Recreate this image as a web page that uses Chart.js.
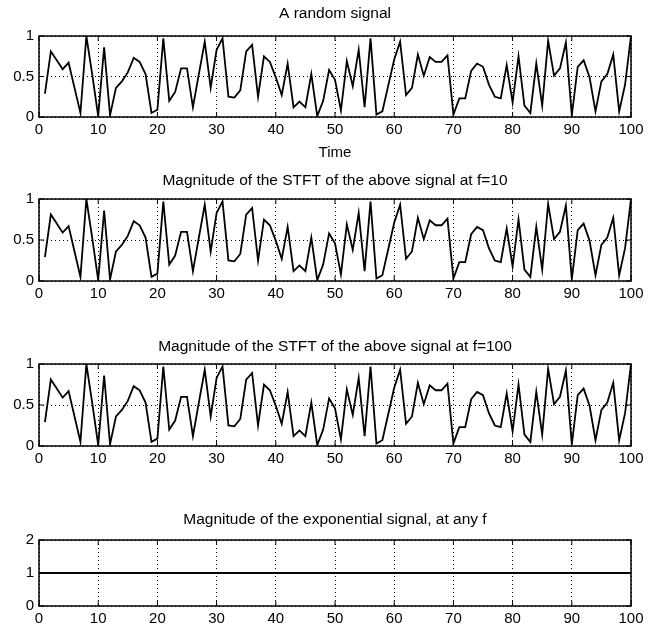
<!DOCTYPE html>
<html>
<head>
<meta charset="utf-8">
<script src="https://cdn.jsdelivr.net/npm/chart.js@4.4.1/dist/chart.umd.min.js"></script>
<style>
    body { margin: 0; background: #fff; width: 649px; height: 626px; overflow: hidden; position: relative; }
    canvas { position: absolute; left: 0; top: 0; }
</style>
</head>
<body>
<canvas id="plot1" width="649" height="626"></canvas>
<canvas id="plot2" width="649" height="626"></canvas>
<canvas id="plot3" width="649" height="626"></canvas>
<canvas id="plot4" width="649" height="626"></canvas>
<script>
// random signal, sampled at t = 1..100
const signalValues = [
    0.29, 0.81, 0.70, 0.59, 0.67, 0.36, 0.05, 1.00, 0.52, 0.01,
    0.86, 0.02, 0.36, 0.44, 0.55, 0.73, 0.68, 0.53, 0.05, 0.09,
    0.97, 0.20, 0.31, 0.60, 0.60, 0.12, 0.53, 0.93, 0.36, 0.83,
    0.97, 0.25, 0.24, 0.33, 0.81, 0.89, 0.25, 0.75, 0.68, 0.49,
    0.27, 0.66, 0.12, 0.19, 0.12, 0.53, 0.01, 0.20, 0.58, 0.46,
    0.08, 0.69, 0.38, 0.83, 0.12, 0.97, 0.03, 0.07, 0.39, 0.71,
    0.93, 0.27, 0.36, 0.77, 0.51, 0.74, 0.68, 0.68, 0.76, 0.03,
    0.23, 0.23, 0.57, 0.66, 0.62, 0.40, 0.25, 0.23, 0.64, 0.18,
    0.75, 0.14, 0.05, 0.66, 0.14, 0.94, 0.51, 0.60, 0.92, 0.02,
    0.62, 0.70, 0.49, 0.07, 0.44, 0.53, 0.77, 0.07, 0.40, 1.00
];
// STFT magnitudes look the same as the signal itself
const stftF10 = signalValues;
const stftF100 = signalValues;
// magnitude of the exponential, t = 0..100
const expMagnitude = [
    1, 1, 1, 1, 1, 1, 1, 1, 1, 1, 1, 1, 1, 1, 1, 1, 1, 1, 1, 1,
    1, 1, 1, 1, 1, 1, 1, 1, 1, 1, 1, 1, 1, 1, 1, 1, 1, 1, 1, 1,
    1, 1, 1, 1, 1, 1, 1, 1, 1, 1, 1, 1, 1, 1, 1, 1, 1, 1, 1, 1,
    1, 1, 1, 1, 1, 1, 1, 1, 1, 1, 1, 1, 1, 1, 1, 1, 1, 1, 1, 1,
    1, 1, 1, 1, 1, 1, 1, 1, 1, 1, 1, 1, 1, 1, 1, 1, 1, 1, 1, 1, 1
];
const titles = [
    'A random signal',
    'Magnitude of the STFT of the above signal at f=10',
    'Magnitude of the STFT of the above signal at f=100',
    'Magnitude of the exponential signal, at any f'
];

const FONT = "'Liberation Sans', Arial, Helvetica, sans-serif";
const PAGE_H = 626;

// matlab style box + inward ticks
const boxPlugin = {
    id: 'boxPlugin',
    afterDatasetsDraw(chart) {
        const ctx = chart.ctx;
        const a = chart.chartArea;
        const x = chart.scales.x, y = chart.scales.y;
        ctx.save();
        ctx.strokeStyle = '#000';
        ctx.lineWidth = 1;
        ctx.beginPath();
        x.ticks.forEach(t => {
            const px = x.getPixelForValue(t.value);
            ctx.moveTo(px, a.bottom); ctx.lineTo(px, a.bottom - 5);
            ctx.moveTo(px, a.top); ctx.lineTo(px, a.top + 5);
        });
        y.ticks.forEach(t => {
            const py = y.getPixelForValue(t.value);
            ctx.moveTo(a.left, py); ctx.lineTo(a.left + 5, py);
            ctx.moveTo(a.right, py); ctx.lineTo(a.right - 5, py);
        });
        ctx.stroke();
        ctx.lineWidth = 1.5;
        ctx.strokeRect(a.left, a.top, a.right - a.left, a.bottom - a.top);
        ctx.restore();
    }
};

// titleY = centre of title text, boxTop / boxBottom = plot frame
function CreateSubplot(canvasId, titleText, values, startT, yMax, yStep, xLabel, titleY, boxTop, boxBottom) {
    const points = values.map((v, i) => ({ x: startT + i, y: v }));
    const titleSize = 15.5;
    const titleLine = titleSize * 1.2;
    const xHeight = xLabel ? 45 : 22;
    const padTop = titleY - titleLine / 2;
    const ctx = document.getElementById(canvasId).getContext('2d');
    return new Chart(ctx, {
        type: 'line',
        data: {
            datasets: [{
                data: points,
                borderColor: '#000',
                borderWidth: 1.8,
                pointRadius: 0,
                tension: 0,
                fill: false
            }]
        },
        options: {
            responsive: false,
            animation: false,
            devicePixelRatio: 1,
            layout: {
                padding: { top: padTop, left: 0, right: 18, bottom: PAGE_H - boxBottom - xHeight }
            },
            plugins: {
                legend: { display: false },
                tooltip: { enabled: false },
                title: {
                    display: true,
                    text: titleText,
                    fullSize: false,
                    color: '#000',
                    font: { family: FONT, size: titleSize, weight: 'normal' },
                    padding: { top: 0, bottom: boxTop - padTop - titleLine }
                }
            },
            scales: {
                x: {
                    type: 'linear',
                    min: 0,
                    max: 100,
                    grid: { color: '#000', lineWidth: 1, drawTicks: false },
                    border: { display: false, dash: [1, 3] },
                    ticks: {
                        stepSize: 10,
                        color: '#000',
                        padding: 4,
                        maxRotation: 0,
                        font: { family: FONT, size: 15 }
                    },
                    title: {
                        display: !!xLabel,
                        text: xLabel || '',
                        color: '#000',
                        font: { family: FONT, size: 15 },
                        padding: { top: 0, bottom: 0 }
                    },
                    afterFit: (scale) => { scale.height = xHeight; }
                },
                y: {
                    min: 0,
                    max: yMax,
                    grid: { color: '#000', lineWidth: 1, drawTicks: false },
                    border: { display: false, dash: [1, 3] },
                    ticks: {
                        stepSize: yStep,
                        color: '#000',
                        padding: 5,
                        font: { family: FONT, size: 15 },
                        callback: (v) => String(v)
                    },
                    afterFit: (scale) => { scale.width = 39; }
                }
            }
        },
        plugins: [boxPlugin]
    });
}

CreateSubplot('plot1', titles[0], signalValues, 1, 1, 0.5, 'Time', 14, 36, 117);
CreateSubplot('plot2', titles[1], stftF10, 1, 1, 0.5, null, 181, 199, 281);
CreateSubplot('plot3', titles[2], stftF100, 1, 1, 0.5, null, 347, 364, 446);
CreateSubplot('plot4', titles[3], expMagnitude, 0, 2, 1, null, 520, 540, 606);
</script>
</body>
</html>
